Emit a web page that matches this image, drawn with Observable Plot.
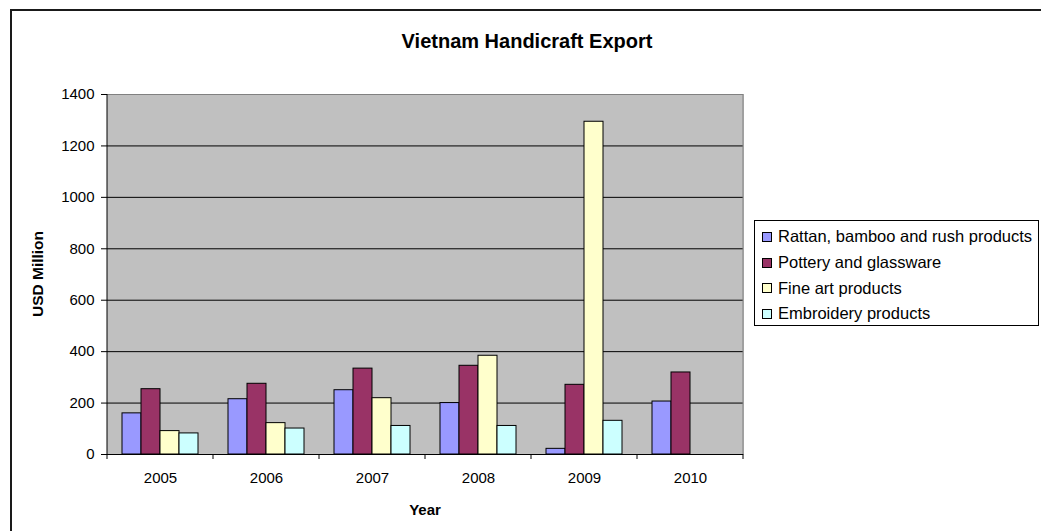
<!DOCTYPE html>
<html>
<head>
<meta charset="utf-8">
<script src="https://cdn.jsdelivr.net/npm/d3@7"></script>
<script src="https://cdn.jsdelivr.net/npm/@observablehq/plot@0.6"></script>
<style>
  html, body { margin: 0; padding: 0; background: #fff; }
  body { font-family: "Liberation Sans", Arial, sans-serif; }
  #wrap { position: relative; width: 1041px; height: 531px; overflow: hidden; background: #fff; }
  #border { position: absolute; left: 10px; top: 9px; width: 1100px; height: 600px; border: 2px solid #1a1a1a; box-sizing: border-box; }
  #chart { position: absolute; left: 0; top: 0; }
  .lbl { position: absolute; white-space: nowrap; line-height: 1; color: #000; }
  #title { left: 527px; top: 31px; transform: translateX(-50%); font-weight: bold; font-size: 20px; }
  #ylabel { left: 38px; top: 274px; transform: translate(-50%, -50%) rotate(-90deg); font-weight: bold; font-size: 15.5px; }
  #xlabel { left: 425px; top: 509px; transform: translate(-50%, -50%); font-weight: bold; font-size: 15px; }
  #legend { position: absolute; left: 754px; top: 220px; width: 285px; height: 106px; border: 1px solid #000; box-sizing: border-box; background: #fff; padding-top: 3px; }
  .row { height: 25.7px; display: flex; align-items: center; font-size: 16.5px; color: #000; white-space: nowrap; }
  .sw { width: 8px; height: 8px; border: 1px solid #000; margin-left: 7px; margin-right: 6px; flex: none; }
</style>
</head>
<body>
<div id="wrap">
  <div id="border"></div>
  <div id="chart"></div>
  <div class="lbl" id="title">Vietnam Handicraft Export</div>
  <div class="lbl" id="ylabel">USD Million</div>
  <div class="lbl" id="xlabel">Year</div>
  <div id="legend"></div>
</div>
<script>
// ---- data ----
const years = ["2005", "2006", "2007", "2008", "2009", "2010"];
const series = ["Rattan, bamboo and rush products", "Pottery and glassware", "Fine art products", "Embroidery products"];
const rattan     = [160, 215, 250, 200, 22, 206];
const pottery    = [254, 275, 334, 345, 271, 319];
const fineArt    = [91, 122, 219, 384, 1294, null];
const embroidery = [82, 101, 111, 111, 131, null];
const colors = ["#9999FF", "#993366", "#FFFFCC", "#CCFFFF"];
const yTicks = [0, 200, 400, 600, 800, 1000, 1200, 1400];

const valueSets = [rattan, pottery, fineArt, embroidery];
const table = [];
years.forEach((yr, i) => {
  series.forEach((s, j) => {
    const v = valueSets[j][i];
    if (v != null) table.push({ year: yr, series: s, value: v });
  });
});

const chart = Plot.plot({
  width: 1041,
  height: 531,
  marginLeft: 105,
  marginRight: 296,
  marginTop: 94,
  marginBottom: 77,
  style: { fontFamily: "Liberation Sans, Arial, sans-serif", fontSize: "15px", background: "transparent", color: "#000", overflow: "visible" },
  fx: { domain: years, padding: 0, label: null, tickSize: 0, tickPadding: 18, axis: "bottom" },
  x: { domain: series, axis: null, paddingInner: 0, paddingOuter: 0.765 },
  y: { domain: [0, 1400], ticks: yTicks, tickFormat: d => String(d), tickSize: 6, tickPadding: 7, label: null },
  color: { domain: series, range: colors },
  marks: [
    Plot.frame({ fill: "#c0c0c0", stroke: "#c0c0c0" }),
    Plot.gridY(yTicks.filter(t => t > 0 && t < 1400), { stroke: "#000", strokeOpacity: 1, strokeWidth: 1 }),
    Plot.ruleY([1400], { stroke: "#808080", strokeWidth: 1 }),
    Plot.barY(table, { fx: "year", x: "series", y: "value", fill: "series", stroke: "#000", strokeWidth: 1, inset: 0 }),
    Plot.ruleY([0], { stroke: "#000", strokeWidth: 1 })
  ]
});
document.getElementById("chart").appendChild(chart);

// axis lines and category boundary ticks, positioned via Plot's scales
const fx = chart.scale("fx");
const y = chart.scale("y");
const svg = d3.select(chart);
const xs = years.map(yr => fx.apply(yr));
const xEnd = fx.apply(years[years.length - 1]) + fx.bandwidth;
const y0 = y.apply(0), yTop = y.apply(1400);
const g = svg.append("g");
g.append("line").attr("x1", xEnd).attr("x2", xEnd).attr("y1", y0).attr("y2", yTop).attr("stroke", "#808080");
g.append("line").attr("x1", xs[0]).attr("x2", xs[0]).attr("y1", y0).attr("y2", yTop).attr("stroke", "#000");
g.selectAll("line.tk").data(xs.concat([xEnd])).join("line")
  .attr("class", "tk")
  .attr("x1", d => d).attr("x2", d => d)
  .attr("y1", y0).attr("y2", y0 + 5)
  .attr("stroke", "#000");

// legend
const legend = d3.select("#legend");
series.forEach((s, i) => {
  const row = legend.append("div").attr("class", "row");
  row.append("div").attr("class", "sw").style("background", colors[i]);
  row.append("span").text(s);
});
</script>
</body>
</html>
